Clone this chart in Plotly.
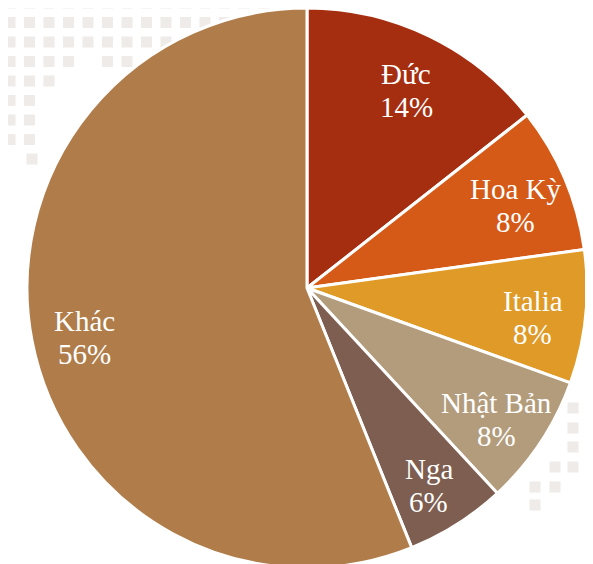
import math
import plotly.graph_objects as go

labels = ["Đức", "Hoa Kỳ", "Italia", "Nhật Bản", "Nga", "Khác"]
values = [14.4, 8.4, 7.7, 7.6, 5.8, 56.1]
colors = ["#A52E10", "#D55A18", "#E09A28", "#B39C7C", "#7D5E50", "#B07D4A"]

W, H = 593, 564
OFF = 8  # page body margin
ML, MT = 18, 0
PW, PH = 562, 560
MR, MB = W - ML - PW, H - MT - PH

def px2paper(sx, sy):
    return (sx - OFF - ML) / PW, (OFF + MT + PH - sy) / PH

# decorative background texture (cells)
grid_cells = []
row_lens = [15, 14, 13, 7, 3, 2, 2, 2]
for r, n in enumerate(row_lens):
    for c in range(n):
        if r == 3 and c == 4:
            continue
        grid_cells.append((10 + 19.5 * c, 3 + 19.5 * r))
grid_cells.append((32, 159))
grid_cells += [(573, 408), (573, 428), (593, 428), (573, 447), (593, 447),
               (555, 467), (573, 467), (535, 487), (555, 487), (535, 505)]

shapes = []
s = 5.5
for (cx, cy) in grid_cells:
    x0, y0 = px2paper(cx - s, cy - s)
    x1, y1 = px2paper(cx + s, cy + s)
    shapes.append(dict(type="rect", xref="paper", yref="paper",
                       x0=x0, x1=x1, y0=y1, y1=y0, layer="below",
                       fillcolor="#EEEBE8", line=dict(width=0)))

fig = go.Figure(go.Pie(
    labels=labels, values=values, sort=False, direction="clockwise", rotation=0,
    marker=dict(colors=colors, line=dict(color="white", width=3)),
    textinfo="none", hoverinfo="label+percent", showlegend=False,
))

# data labels placed along each slice's mid-angle
total = sum(values)
R = min(PW, PH) / 2
pcx, pcy = OFF + ML + PW / 2, OFF + MT + PH / 2
annotations = []
cum = 0.0
for lab, v in zip(labels, values):
    mid = 2 * math.pi * (cum + v / 2) / total
    cum += v
    sx = pcx + 0.81 * R * math.sin(mid)
    sy = pcy - 0.81 * R * math.cos(mid) + 6
    ax, ay = px2paper(sx, sy)
    pct = f"{round(100 * v / total)}%"
    for txt, shift in ((lab, 16), (pct, -17)):
        annotations.append(dict(x=ax, y=ay, xref="paper", yref="paper", text=txt,
                                showarrow=False, yshift=shift,
                                xanchor="center", yanchor="middle",
                                font=dict(family="Liberation Serif", size=29, color="white")))

fig.update_layout(width=W, height=H, margin=dict(l=ML, r=MR, t=MT, b=MB),
                  paper_bgcolor="white", plot_bgcolor="white", shapes=shapes,
                  annotations=annotations)
fig.write_html("out.html")
